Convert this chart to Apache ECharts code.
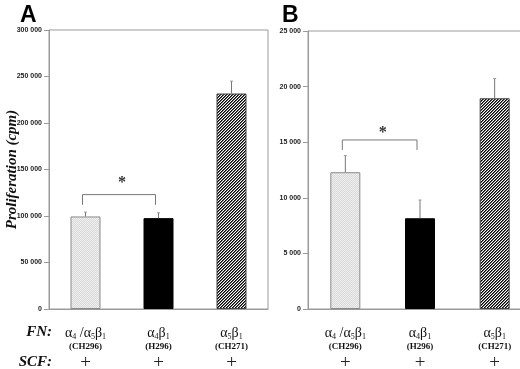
<!DOCTYPE html>
<html>
<head>
<meta charset="utf-8">
<script src="https://cdn.jsdelivr.net/npm/echarts@6/dist/echarts.min.js"></script>
<style>
  html, body { margin: 0; padding: 0; background: #fff; }
  #chart { width: 520px; height: 369px; }
</style>
</head>
<body>
<div id="chart"></div>
<script>
(function () {
  // categories: integrin (underscore = subscript), fragment, SCF
  const integrins = ["α_4 /α_5β_1", "α_4β_1", "α_5β_1"];
  const fragments = ["(CH296)", "(H296)", "(CH271)"];
  const scf = ["+", "+", "+"];

  // panel A
  const valuesA = [99500, 97700, 231700];
  const errorsA = [4700, 5700, 13300];
  const ticksA = { min: 0, max: 300000, interval: 50000 };
  const bracketA = [0, 1, 123000, 112000];
  const starA = 139000;

  // panel B
  const valuesB = [12300, 8160, 18950];
  const errorsB = [1490, 1640, 1770];
  const ticksB = { min: 0, max: 25000, interval: 5000 };
  const bracketB = [0, 1, 15200, 14300];
  const starB = 16100;

  const serif = "'Liberation Serif', 'Times New Roman', serif";
  const narrow = "'Liberation Sans Narrow', 'Liberation Sans', Arial, sans-serif";
  const grey = "#9a9a9a";

  function tile(size, paint) {
    const c = document.createElement("canvas");
    c.width = c.height = size;
    const g = c.getContext("2d");
    for (let x = 0; x < size; x += 1) {
      for (let y = 0; y < size; y += 1) {
        g.fillStyle = paint(x, y);
        g.fillRect(x, y, 1, 1);
      }
    }
    return { image: c, repeat: "repeat" };
  }

  const stipple = tile(2, (x, y) => ((x + y) % 2 ? "#dadada" : "#eeeeee"));
  const hatch = tile(3, (x, y) => {
    const k = (x + y) % 3;
    return k === 2 ? "#000" : k === 0 ? "#666" : "#fff";
  });

  const barStyles = [
    { color: stipple, borderColor: "#8a8a8a", borderWidth: 1 },
    { color: "#000", borderColor: "#000", borderWidth: 1 },
    { color: hatch, borderColor: "#444", borderWidth: 1 }
  ];

  function thousands(v) {
    if (v === 0) return "0";
    const s = String(v);
    return s.slice(0, s.length - 3) + " " + s.slice(-3);
  }

  function catLabel(value, index) {
    const parts = integrins[index].split(/_(\d)/);
    let first = "";
    parts.forEach((p, i) => {
      if (!p) return;
      first += i % 2 ? `{s|${p}}` : `{a|${p}}`;
    });
    return `${first}\n{f|${fragments[index]}}\n{p|${scf[index]}}`;
  }

  const richLabel = {
    a: { fontFamily: serif, fontSize: 14, color: "#111", lineHeight: 14 },
    s: { fontFamily: serif, fontSize: 8, color: "#111", lineHeight: 14, padding: [7, 0, 0, 0] },
    f: { fontFamily: serif, fontSize: 9, fontWeight: "bold", color: "#111", lineHeight: 14 },
    p: { fontFamily: serif, fontSize: 19, color: "#222", lineHeight: 18 }
  };

  function xAxis(gridIndex) {
    return {
      type: "category",
      gridIndex,
      data: integrins,
      boundaryGap: true,
      axisLine: { lineStyle: { color: grey, width: 1 } },
      axisTick: { show: false },
      axisLabel: { margin: 17, formatter: catLabel, rich: richLabel, interval: 0 }
    };
  }

  function yAxis(gridIndex, ticks, margin, withName) {
    return {
      type: "value",
      gridIndex,
      min: ticks.min,
      max: ticks.max,
      interval: ticks.interval,
      splitLine: { show: false },
      axisLine: { show: true, lineStyle: { color: grey, width: 1 } },
      axisTick: { show: true, length: 5, lineStyle: { color: grey } },
      axisLabel: {
        margin,
        formatter: thousands,
        fontFamily: narrow,
        fontWeight: "bold",
        fontSize: 7,
        color: "#222"
      },
      name: withName ? "Proliferation (cpm)" : "",
      nameLocation: "middle",
      nameRotate: 90,
      nameGap: 29,
      nameMoveOverlap: false,
      nameTextStyle: {
        fontFamily: serif,
        fontSize: 15,
        fontWeight: "bold",
        fontStyle: "italic",
        color: "#111"
      }
    };
  }

  function bars(idx, values) {
    return {
      type: "bar",
      xAxisIndex: idx,
      yAxisIndex: idx,
      barWidth: 30,
      silent: true,
      data: values.map((v, i) => ({ value: v, itemStyle: barStyles[i] }))
    };
  }

  function errorBars(idx, values, errors) {
    return {
      type: "custom",
      xAxisIndex: idx,
      yAxisIndex: idx,
      silent: true,
      z: 3,
      data: values.map((v, i) => [i, v, errors[i]]),
      renderItem(params, api) {
        const base = api.coord([api.value(0), api.value(1)]);
        const top = api.coord([api.value(0), api.value(1) + api.value(2)]);
        return {
          type: "group",
          children: [
            { type: "line", shape: { x1: base[0], y1: base[1], x2: top[0], y2: top[1] }, style: { stroke: "#777", lineWidth: 1 } },
            { type: "line", shape: { x1: top[0] - 1.5, y1: top[1], x2: top[0] + 1.5, y2: top[1] }, style: { stroke: "#999", lineWidth: 1 } }
          ]
        };
      }
    };
  }

  function bracket(idx, b, star) {
    return {
      type: "custom",
      xAxisIndex: idx,
      yAxisIndex: idx,
      silent: true,
      z: 3,
      data: [[b[0], b[1], b[2], b[3], star]],
      renderItem(params, api) {
        const l = api.coord([api.value(0), api.value(2)]);
        const r = api.coord([api.value(1), api.value(2)]);
        const lf = api.coord([api.value(0), api.value(3)]);
        const s = api.coord([api.value(0), api.value(4)]);
        const shift = -3;
        const x1 = l[0] + shift;
        const x2 = r[0] + shift;
        return {
          type: "group",
          children: [
            {
              type: "polyline",
              shape: { points: [[x1, lf[1]], [x1, l[1]], [x2, l[1]], [x2, lf[1]]] },
              style: { stroke: "#777", lineWidth: 1, fill: null }
            },
            {
              type: "text",
              x: (l[0] + r[0]) / 2,
              y: s[1] + 3,
              style: { text: "*", fontFamily: serif, fontSize: 16, fontWeight: "bold", fill: "#333", align: "center", verticalAlign: "middle" }
            }
          ]
        };
      }
    };
  }

  const chart = echarts.init(document.getElementById("chart"), null, { renderer: "canvas" });
  chart.setOption({
    animation: false,
    grid: [
      { left: 49, top: 30, width: 219, height: 279, show: true, borderColor: grey, borderWidth: 1, outerBoundsMode: "none", containLabel: false },
      { left: 308, top: 31, width: 224, height: 278, show: true, borderColor: grey, borderWidth: 1, outerBoundsMode: "none", containLabel: false }
    ],
    xAxis: [xAxis(0), xAxis(1)],
    yAxis: [yAxis(0, ticksA, 7, true), yAxis(1, ticksB, 7, false)],
    series: [
      bars(0, valuesA), errorBars(0, valuesA, errorsA), bracket(0, bracketA, starA),
      bars(1, valuesB), errorBars(1, valuesB, errorsB), bracket(1, bracketB, starB)
    ],
    graphic: [
      { type: "text", left: 20, top: 4, style: { text: "A", font: "bold 23px 'Liberation Sans', Arial, sans-serif", fill: "#000" } },
      { type: "text", left: 282, top: 4, style: { text: "B", font: "bold 23px 'Liberation Sans', Arial, sans-serif", fill: "#000" } },
      { type: "text", right: 468, top: 325, style: { text: "FN:", font: "italic bold 15px " + serif, fill: "#111", align: "right" } },
      { type: "text", right: 468, top: 355, style: { text: "SCF:", font: "italic bold 15px " + serif, fill: "#111", align: "right" } }
    ]
  });
})();
</script>
</body>
</html>
